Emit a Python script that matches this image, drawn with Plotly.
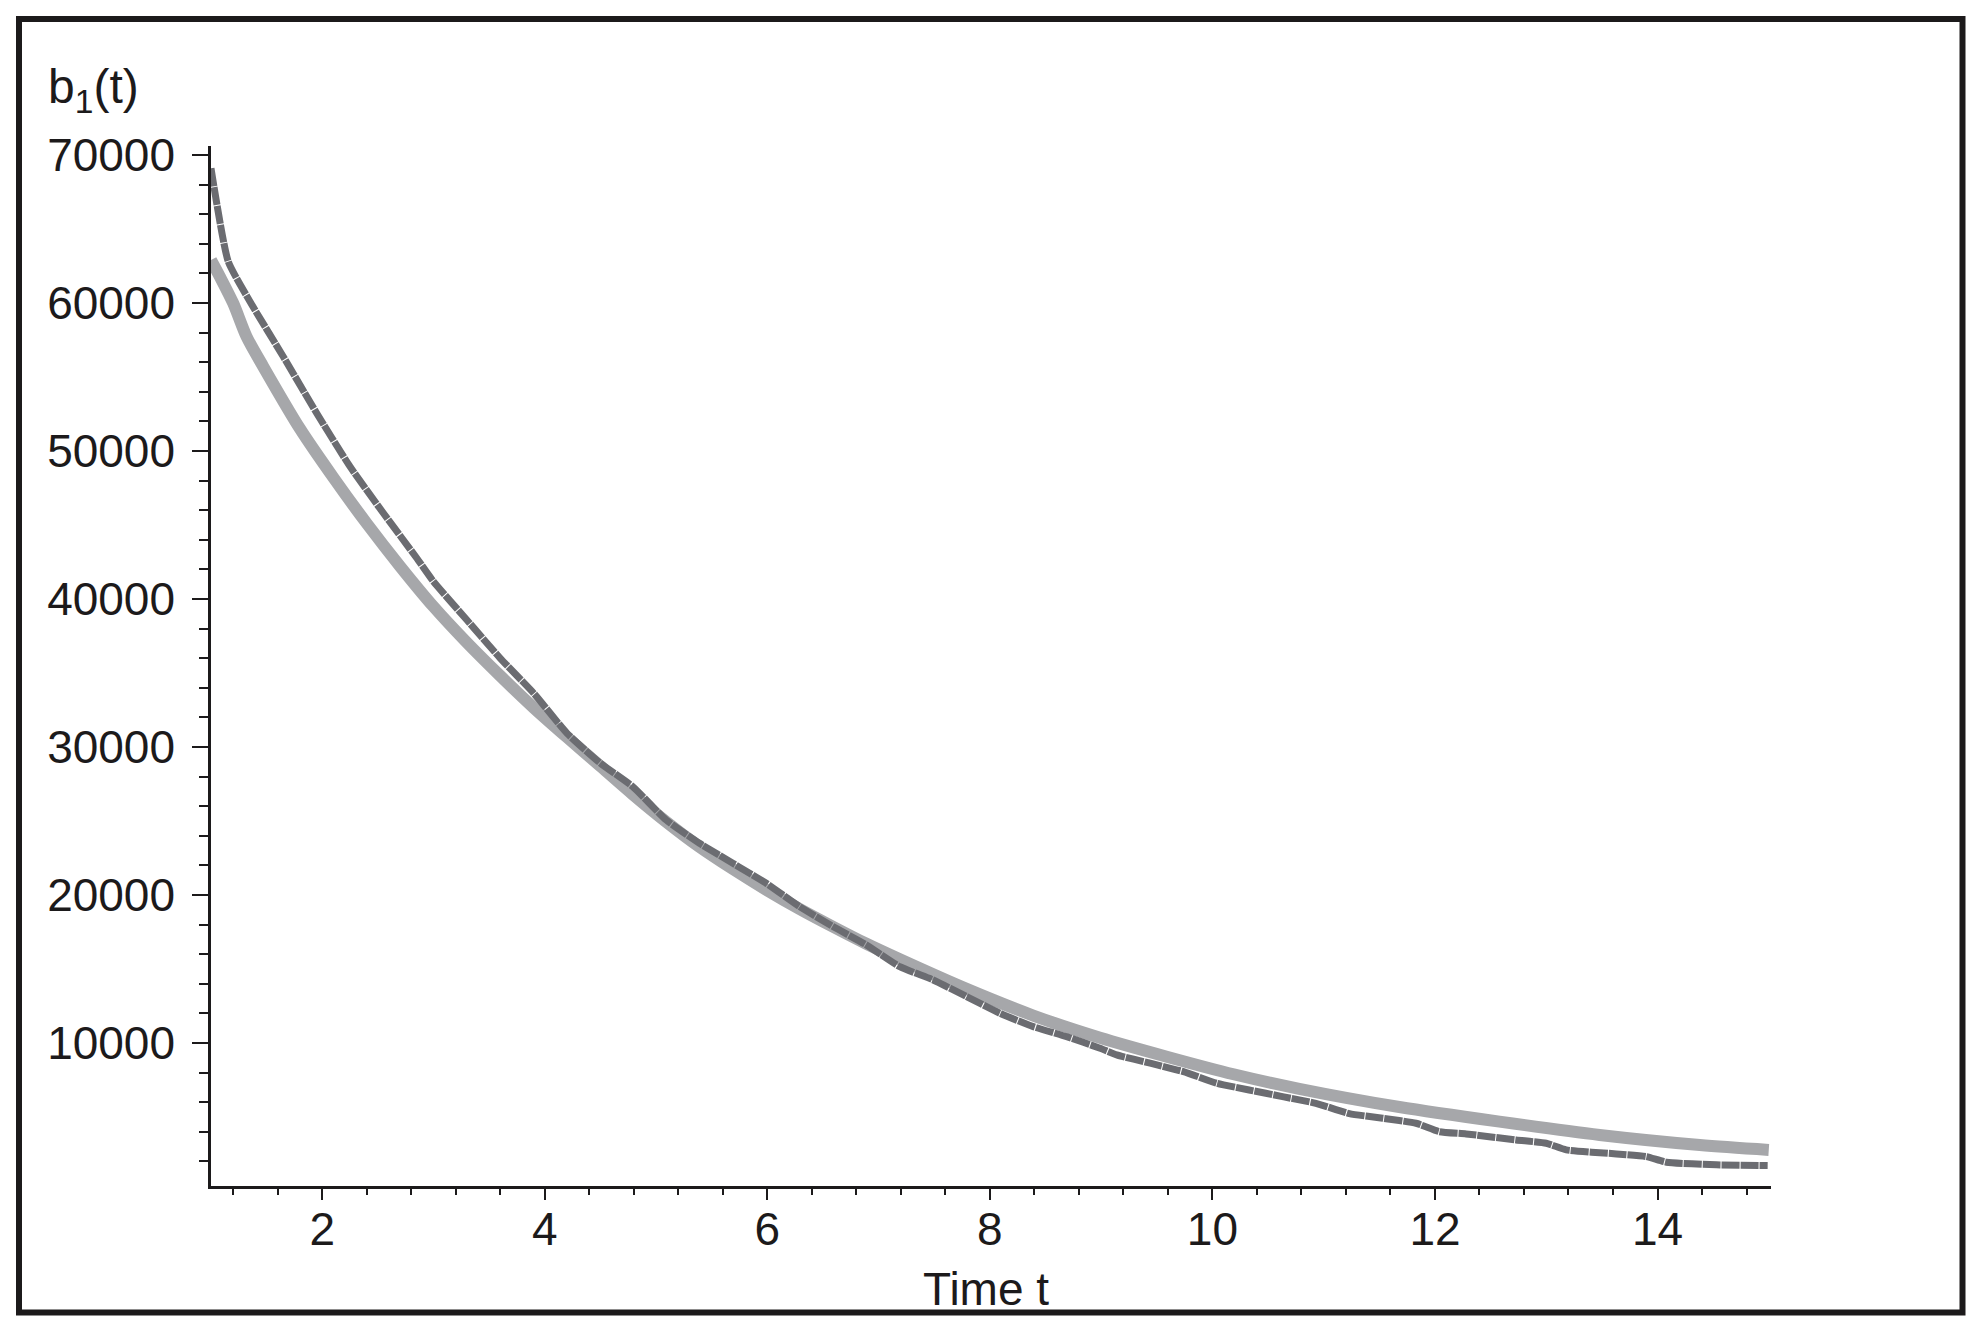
import plotly.graph_objects as go

# Simulated (dark, dotted) series
dark_t = [1.0, 1.155, 1.35, 1.65, 1.95, 2.25, 2.55, 2.85, 3.0, 3.30, 3.60, 3.90,
          4.20, 4.50, 4.79, 5.09, 5.39, 5.69, 5.99, 6.29, 6.59, 6.89, 7.19, 7.49,
          7.79, 8.09, 8.39, 8.69, 8.99, 9.14, 9.44, 9.74, 10.04, 10.33, 10.63,
          10.93, 11.23, 11.53, 11.83, 12.04, 12.28, 12.73, 13.0, 13.18, 13.63,
          13.9, 14.08, 14.53, 14.99]
dark_b = [69100, 62800, 60100, 56370, 52550, 48940, 45790, 42750, 41170, 38580,
          35990, 33630, 30920, 28900, 27320, 25070, 23490, 22140, 20790, 19210,
          17860, 16620, 15150, 14255, 13130, 12000, 11100, 10420, 9640, 9190,
          8630, 8060, 7270, 6820, 6370, 5920, 5220, 4910, 4570, 4000, 3850, 3440,
          3220, 2770, 2500, 2320, 1940, 1760, 1710]

# Fitted (light, thick) series
light_t = [1.0, 1.08, 1.2, 1.32, 1.47, 1.80, 2.10, 2.40, 2.70, 3.0, 3.30, 3.60,
           3.90, 4.20, 4.50, 4.79, 5.09, 5.39, 5.69, 5.99, 6.29, 6.59, 6.89,
           7.19, 7.79, 8.39, 8.99, 9.59, 10.19, 10.78, 11.68, 12.58, 13.48,
           14.38, 15.0]
light_b = [62900, 61780, 59980, 57720, 55700, 51500, 48200, 45100, 42200, 39480,
           37050, 34800, 32650, 30650, 28700, 26800, 24950, 23250, 21750, 20350,
           19050, 17850, 16700, 15650, 13650, 11850, 10350, 9070, 7880, 6900,
           5670, 4680, 3780, 3100, 2770]

x_ticks = [2, 4, 6, 8, 10, 12, 14]
y_ticks = [10000, 20000, 30000, 40000, 50000, 60000, 70000]

x_title = "Time t"
y_title = "b<sub>1</sub>(t)"

FONT = "Liberation Sans, Arial, Helvetica, sans-serif"
INK = "#1c1a1b"

fig = go.Figure()
fig.add_trace(go.Scatter(
    x=light_t, y=light_b, mode="lines",
    line=dict(color="#a6a7aa", width=12, shape="spline", smoothing=0.8),
    showlegend=False, hoverinfo="skip"))
fig.add_trace(go.Scatter(
    x=dark_t, y=dark_b, mode="lines",
    line=dict(color="#6b6c71", width=7, dash="18px,1px",
              shape="spline", smoothing=0.5),
    showlegend=False, hoverinfo="skip"))

W, H = 1986, 1331
L, R, T, B = 211, 215, 146, 145
pw, ph = W - L - R, H - T - B

def px(xf):
    return (xf - L) / pw

def py(yf):
    return (H - B - yf) / ph

fig.update_layout(
    width=W, height=H,
    margin=dict(l=L, r=R, t=T, b=B, pad=0),
    paper_bgcolor="white", plot_bgcolor="white",
    font=dict(family=FONT, color=INK, size=46),
    xaxis=dict(
        range=[1.0, 15.02], tickmode="array", tickvals=x_ticks,
        ticktext=[str(v) for v in x_ticks],
        showgrid=False, zeroline=False,
        showline=True, linecolor=INK, linewidth=2.5,
        ticks="outside", ticklen=11, tickwidth=1.5, tickcolor=INK,
        tickfont=dict(family=FONT, size=46, color=INK),
        ticklabelstandoff=-10,
        minor=dict(dtick=0.4, tick0=0, ticks="outside", ticklen=6,
                   tickwidth=1.5, tickcolor=INK, showgrid=False),
    ),
    yaxis=dict(
        range=[330, 70610], tickmode="array", tickvals=y_ticks,
        ticktext=[str(v) for v in y_ticks],
        showgrid=False, zeroline=False,
        showline=True, linecolor=INK, linewidth=2.5,
        ticks="outside", ticklen=16, tickwidth=1.5, tickcolor=INK,
        tickfont=dict(family=FONT, size=46, color=INK),
        ticklabelstandoff=8,
        minor=dict(dtick=2000, tick0=0, ticks="outside", ticklen=9,
                   tickwidth=1.5, tickcolor=INK, showgrid=False),
    ),
    annotations=[
        dict(text=y_title, xref="paper", yref="paper",
             x=px(46), y=py(90), xanchor="left", yanchor="middle",
             showarrow=False, font=dict(family=FONT, size=48, color=INK)),
        dict(text=x_title, xref="paper", yref="paper",
             x=px(986), y=py(1289), xanchor="center", yanchor="middle",
             showarrow=False, font=dict(family=FONT, size=46, color=INK)),
    ],
    shapes=[
        dict(type="rect", xref="paper", yref="paper",
             x0=px(19), x1=px(1962.5), y0=py(1312.5), y1=py(19),
             line=dict(color=INK, width=6), fillcolor="rgba(0,0,0,0)",
             layer="above"),
    ],
)

fig.write_html("out.html", config={"displayModeBar": False},
               post_script="document.body.style.margin='0';")
